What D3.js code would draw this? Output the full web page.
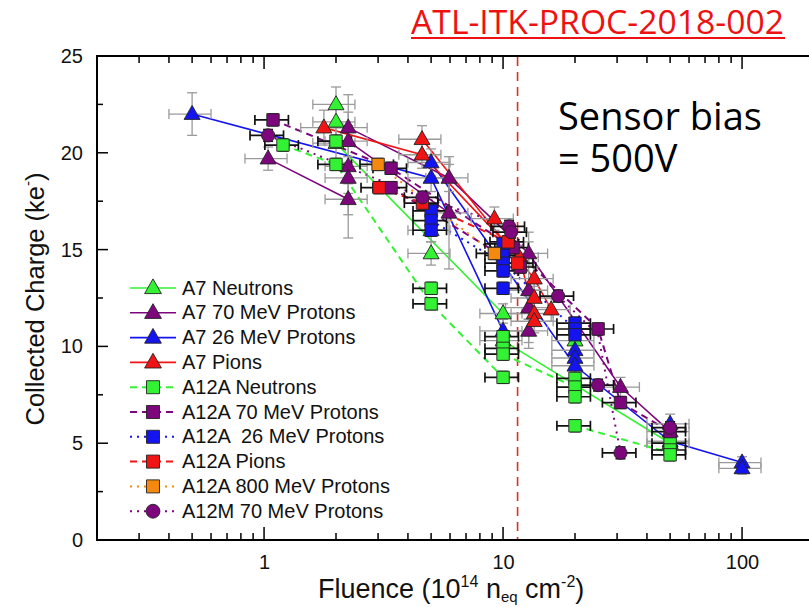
<!DOCTYPE html>
<html>
<head>
<meta charset="utf-8">
<script src="https://cdn.jsdelivr.net/npm/d3@7"></script>
<style>
  html, body { margin: 0; padding: 0; background: #ffffff; }
  svg { display: block; }
</style>
</head>
<body>
<svg id="chart" width="809" height="607"></svg>
<script>
// ---- Data: [fluence (1e14 neq/cm2), collected charge (ke-), charge error] ----
const a7Neutrons = [[2,22.5,0.9],[2,21.6,0.8],[2,20.5,0.8],[5,16.0,0.6],[5,14.8,0.6],[10,11.7,0.5],[10,10.3,0.5],[20,10.3,0.5],[50,5.0,0.5]];
const a7Protons70 = [[1.04,19.7,0.6],[2.25,21.3,0.8],[2.25,20.6,0.8],[2.25,19.3,3.7],[2.25,18.7,0.8],[2.25,17.6,0.8],[5.94,18.7,0.7],[5.94,16.9,2.9],[12.8,14.8,0.6],[12.8,12.9,3.0],[12.8,12.0,0.6],[12.8,10.8,0.6],[31,7.9,0.5],[50,5.6,0.5]];
const a7Protons26 = [[0.5,22.0,1.1],[5,19.5,0.7],[5,18.7,0.7],[10,10.8,0.6],[20,9.8,0.5],[20,9.4,0.5],[20,9.0,0.5],[50,6.0,0.5],[50,5.1,0.5],[100,4.0,0.3],[100,3.7,0.3]];
const a7Pions = [[1.78,21.3,0.9],[4.58,20.7,0.7],[4.58,19.9,0.7],[9.2,16.6,0.6],[11.7,14.6,0.6],[13.5,13.5,0.6],[13.5,12.5,0.6],[13.5,11.7,0.6],[13.5,11.3,0.6],[15.9,11.9,0.6]];
const a12aNeutrons = [[1.2,20.4,0.3],[2,20.6,0.3],[2,19.4,0.3],[5,13.0,0.3],[5,12.2,0.3],[10,10.5,0.3],[10,9.9,0.3],[10,9.6,0.3],[10,8.4,0.3],[20,8.35,0.3],[20,7.9,0.3],[20,7.4,0.3],[20,5.9,0.3],[50,5.0,0.3],[50,4.65,0.3],[50,4.4,0.3]];
const a12aProtons70 = [[1.09,21.7,0.3],[3.4,19.2,0.3],[3.4,18.2,0.3],[11,15.1,0.3],[11.8,14.1,0.3],[25,10.9,0.3],[31,7.1,0.3],[50,5.6,0.3]];
const a12aProtons26 = [[5,17.0,0.3],[5,16.5,0.3],[5,16.0,0.3],[10,15.3,0.3],[10,14.7,0.3],[10,14.3,0.3],[10,13.9,0.3],[10,13.0,0.3],[20,11.2,0.3],[20,10.9,0.3],[20,10.6,0.3]];
const a12aPions = [[3.03,18.2,0.3],[4.6,17.4,0.3],[10.5,15.4,0.3],[11.5,14.3,0.3]];
const a12aProtons800 = [[3.0,19.4,0.3],[9.2,14.8,0.3]];
const a12mProtons70 = [[1.04,20.9,0.3],[4.6,17.7,0.3],[10.6,16.2,0.3],[10.8,15.9,0.3],[17,12.6,0.3],[25,8.0,0.3],[31,4.5,0.3],[50,5.8,0.3]];

// ---- Connecting lines: [fluence, charge] vertices ----
const a7NeutronsLines = [[[2,20.5],[10,11.7]], [[10,10.3],[50,5.0]]];
const a7Protons70Lines = [[[1.04,19.7],[2.25,17.6]], [[2.25,20.6],[5.94,16.9],[5.94,18.7],[12.8,14.8],[31,7.9],[50,5.6]], [[2.25,21.3],[5.94,18.7]]];
const a7Protons26Lines = [[[0.5,22.0],[5,18.7],[10,10.8]], [[5,19.5],[20,9.0],[50,5.1],[100,4.0]]];
const a7PionsLines = [[[1.78,21.3],[4.58,19.9],[11.7,14.6],[13.5,11.7]], [[4.58,20.7],[13.5,13.5],[15.9,11.9]]];
const a12aNeutronsLines = [[[1.2,20.4],[2,19.4],[5,12.2],[10,8.4]], [[10,9.6],[20,7.9]], [[20,5.9],[50,4.5]]];
const a12aProtons70Lines = [[[1.09,21.7],[3.4,19.2],[11,15.1],[25,10.9],[31,7.1],[50,5.6]], [[3.4,18.2],[11.8,14.1]]];
const a12aProtons26Lines = [[[5,16.5],[10,14.3],[20,10.9]]];
const a12aPionsLines = [[[3.03,18.2],[4.6,17.4],[10.5,15.4],[11.5,14.3]]];
const a12aProtons800Lines = [[[3.0,19.4],[9.2,14.8]]];
const a12mProtons70Lines = [[[1.04,20.9],[4.6,17.7],[10.6,16.2],[17,12.6],[25,10.6],[31,4.5]]];

// ---- Axis ticks ----
const xMajorTicks = [1, 10, 100];
const xTickLabels = ["1", "10", "100"];
const yMajorTicks = [0, 5, 10, 15, 20, 25];
const yTickLabels = ["0", "5", "10", "15", "20", "25"];
const biasFluence = 11.5;

// ---- Series appearance ----
const GREEN = "#33f233", PURPLE = "#7d067d", BLUE = "#1414f0", RED = "#f01414", ORANGE = "#f5880f";
const series = [
  { name: "A7 Neutrons",          data: a7Neutrons,     lines: a7NeutronsLines,     color: GREEN,  shape: "tri", dash: null,  err: "#9a9a9a", xe: 0.2 },
  { name: "A7 70 MeV Protons",    data: a7Protons70,    lines: a7Protons70Lines,    color: PURPLE, shape: "tri", dash: null,  err: "#9a9a9a", xe: 0.2 },
  { name: "A7 26 MeV Protons",    data: a7Protons26,    lines: a7Protons26Lines,    color: BLUE,   shape: "tri", dash: null,  err: "#9a9a9a", xe: 0.2 },
  { name: "A7 Pions",             data: a7Pions,        lines: a7PionsLines,        color: RED,    shape: "tri", dash: null,  err: "#9a9a9a", xe: 0.2 },
  { name: "A12A Neutrons",        data: a12aNeutrons,   lines: a12aNeutronsLines,   color: GREEN,  shape: "sq",  dash: "7,5", err: "#111",    xe: 0.16 },
  { name: "A12A 70 MeV Protons",  data: a12aProtons70,  lines: a12aProtons70Lines,  color: PURPLE, shape: "sq",  dash: "7,5", err: "#111",    xe: 0.16 },
  { name: "A12A  26 MeV Protons", data: a12aProtons26,  lines: a12aProtons26Lines,  color: BLUE,   shape: "sq",  dash: "2,5", err: "#111",    xe: 0.16 },
  { name: "A12A Pions",           data: a12aPions,      lines: a12aPionsLines,      color: RED,    shape: "sq",  dash: "7,5", err: "#111",    xe: 0.16 },
  { name: "A12A 800 MeV Protons", data: a12aProtons800, lines: a12aProtons800Lines, color: ORANGE, shape: "sq",  dash: "2,5", err: "#111",    xe: 0.16 },
  { name: "A12M 70 MeV Protons",  data: a12mProtons70,  lines: a12mProtons70Lines,  color: PURPLE, shape: "circ",dash: "2,5", err: "#111",    xe: 0.16 }
];

const svg = d3.select("#chart");
const AXIS_FONT = "'Liberation Sans', Arial, sans-serif";

const x = d3.scaleLog().domain([0.2, 200]).range([97, 814]);
const y = d3.scaleLinear().domain([0, 25]).range([540, 56]);
const plotLeft = x.range()[0], plotRight = x.range()[1], plotTop = y.range()[1], plotBottom = y.range()[0];

// Frame
svg.append("rect").attr("x", plotLeft).attr("y", plotTop).attr("width", plotRight - plotLeft).attr("height", plotBottom - plotTop)
  .attr("fill", "#fff").attr("stroke", "#000").attr("stroke-width", 2);

// Log x minor + major ticks (inward, bottom and top)
const xMinor = [];
[0.1, 1, 10, 100].forEach(dec => { for (let k = 2; k <= 9; k++) { const v = dec * k; if (v > 0.2 && v < 200) xMinor.push(v); } });
const xt = svg.append("g").attr("stroke", "#000").attr("stroke-width", 1.5);
xMinor.forEach(v => {
  xt.append("line").attr("x1", x(v)).attr("x2", x(v)).attr("y1", plotBottom).attr("y2", plotBottom - 7);
  xt.append("line").attr("x1", x(v)).attr("x2", x(v)).attr("y1", plotTop).attr("y2", plotTop + 7);
});
xMajorTicks.forEach(v => {
  xt.append("line").attr("x1", x(v)).attr("x2", x(v)).attr("y1", plotBottom).attr("y2", plotBottom - 13);
  xt.append("line").attr("x1", x(v)).attr("x2", x(v)).attr("y1", plotTop).attr("y2", plotTop + 13);
});
// x tick labels via d3 axis (tick lines hidden)
const xAxis = d3.axisBottom(x).tickValues(xMajorTicks).tickFormat((d, i) => xTickLabels[i]).tickSize(0).tickPadding(15);
svg.append("g").attr("transform", `translate(0,${plotBottom})`).call(xAxis)
  .call(g => g.select(".domain").remove())
  .selectAll("text").attr("font-family", AXIS_FONT).attr("font-size", 20).attr("fill", "#111");

// y ticks
const yt = svg.append("g").attr("stroke", "#000").attr("stroke-width", 1.5);
for (let v = 2.5; v < 25; v += 5) yt.append("line").attr("x1", plotLeft).attr("x2", plotLeft + 6).attr("y1", y(v)).attr("y2", y(v));
yMajorTicks.forEach(v => yt.append("line").attr("x1", plotLeft).attr("x2", plotLeft + 11).attr("y1", y(v)).attr("y2", y(v)));
const yAxis = d3.axisLeft(y).tickValues(yMajorTicks).tickFormat((d, i) => yTickLabels[i]).tickSize(0).tickPadding(14);
svg.append("g").attr("transform", `translate(${plotLeft},0)`).call(yAxis)
  .call(g => g.select(".domain").remove())
  .selectAll("text").attr("font-family", AXIS_FONT).attr("font-size", 20).attr("fill", "#111");

// Bias reference line
svg.append("line").attr("x1", x(biasFluence)).attr("x2", x(biasFluence)).attr("y1", plotTop + 1).attr("y2", plotBottom - 1)
  .attr("stroke", "#d8321e").attr("stroke-width", 1.6).attr("stroke-dasharray", "9,6");

// Marker paths
function markerPath(shape, s) {
  if (shape === "tri") { const w = 8 * s, h = 14 * s; return `M0,${-h * 0.62}L${w},${h * 0.38}L${-w},${h * 0.38}Z`; }
  if (shape === "sq") { const a = 6.2 * s; return `M${-a},${-a}H${a}V${a}H${-a}Z`; }
  const r = 6.6 * s; return `M${r},0A${r},${r} 0 1,1 ${-r},0A${r},${r} 0 1,1 ${r},0Z`;
}

const lineGen = d3.line().x(d => x(d[0])).y(d => y(d[1]));
const plot = svg.append("g");

// Lines
series.forEach(s => {
  s.lines.forEach(l => {
    plot.append("path").attr("d", lineGen(l)).attr("fill", "none").attr("stroke", s.color)
      .attr("stroke-width", s.dash ? 2 : 1.6).attr("stroke-dasharray", s.dash);
  });
});

// Error bars
series.forEach(s => {
  const g = plot.append("g").attr("stroke", s.err).attr("stroke-width", s.err === "#111" ? 1.7 : 1.3).attr("fill", "none");
  s.data.forEach(([f, q, dq]) => {
    const cx = x(f), cy = y(q), x0 = x(f * (1 - s.xe)), x1 = x(f * (1 + s.xe));
    g.append("line").attr("x1", x0).attr("x2", x1).attr("y1", cy).attr("y2", cy);
    g.append("line").attr("x1", x0).attr("x2", x0).attr("y1", cy - 5).attr("y2", cy + 5);
    g.append("line").attr("x1", x1).attr("x2", x1).attr("y1", cy - 5).attr("y2", cy + 5);
    const y0 = y(q - dq), y1 = y(q + dq);
    g.append("line").attr("x1", cx).attr("x2", cx).attr("y1", y0).attr("y2", y1);
    g.append("line").attr("x1", cx - 5).attr("x2", cx + 5).attr("y1", y0).attr("y2", y0);
    g.append("line").attr("x1", cx - 5).attr("x2", cx + 5).attr("y1", y1).attr("y2", y1);
  });
});

// Markers
series.forEach(s => {
  plot.append("g").selectAll("path").data(s.data).join("path")
    .attr("d", markerPath(s.shape, 1))
    .attr("transform", d => `translate(${x(d[0])},${y(d[1])})`)
    .attr("fill", s.color).attr("stroke", "#222").attr("stroke-width", 0.9);
});

// Legend
const legend = svg.append("g").attr("transform", "translate(130,288)");
series.forEach((s, i) => {
  const g = legend.append("g").attr("transform", `translate(0,${i * 24.8})`);
  g.append("line").attr("x1", 0).attr("x2", 46).attr("y1", 0).attr("y2", 0)
    .attr("stroke", s.color).attr("stroke-width", s.dash ? 2 : 1.6).attr("stroke-dasharray", s.dash);
  g.append("path").attr("d", markerPath(s.shape, 1.05)).attr("transform", "translate(23,0)")
    .attr("fill", s.color).attr("stroke", "#222").attr("stroke-width", 0.9);
  g.append("text").attr("x", 52).attr("y", 6.5).attr("font-family", AXIS_FONT).attr("font-size", 20)
    .attr("fill", "#111").style("white-space", "pre").text(s.name);
});

// Axis titles
const yTitle = svg.append("text").attr("transform", "translate(44,299) rotate(-90)")
  .attr("text-anchor", "middle").attr("font-family", AXIS_FONT).attr("font-size", 25.5).attr("fill", "#111");
yTitle.append("tspan").text("Collected Charge (ke");
yTitle.append("tspan").attr("font-size", 15).attr("dy", -11).text("-");
yTitle.append("tspan").attr("dy", 11).text(")");

const xTitle = svg.append("text").attr("x", 318).attr("y", 598)
  .attr("font-family", AXIS_FONT).attr("font-size", 27).attr("fill", "#111");
xTitle.append("tspan").text("Fluence (10");
xTitle.append("tspan").attr("font-size", 16).attr("dy", -11).text("14");
xTitle.append("tspan").attr("dy", 11).text(" n");
xTitle.append("tspan").attr("font-size", 15).attr("dy", 4).text("eq");
xTitle.append("tspan").attr("dy", -4).text(" cm");
xTitle.append("tspan").attr("font-size", 16).attr("dy", -11).text("-2");
xTitle.append("tspan").attr("dy", 11).text(")");

// Annotation (two lines in one text block)
const note = svg.append("text").attr("font-family", "'Open Sans', sans-serif").attr("font-size", 38).attr("fill", "#000");
note.append("tspan").attr("x", 558).attr("y", 130).text("Sensor bias");
note.append("tspan").attr("x", 558).attr("y", 172).text("= 500V");

// Document reference
svg.append("text").attr("x", 411).attr("y", 34).attr("font-family", "'Open Sans', sans-serif")
  .attr("font-size", 33).attr("fill", "#ee1111").attr("textLength", 373).attr("lengthAdjust", "spacingAndGlyphs")
  .text("ATL-ITK-PROC-2018-002");
svg.append("line").attr("x1", 411).attr("x2", 785).attr("y1", 38).attr("y2", 38)
  .attr("stroke", "#ee1111").attr("stroke-width", 2);
</script>
</body>
</html>
